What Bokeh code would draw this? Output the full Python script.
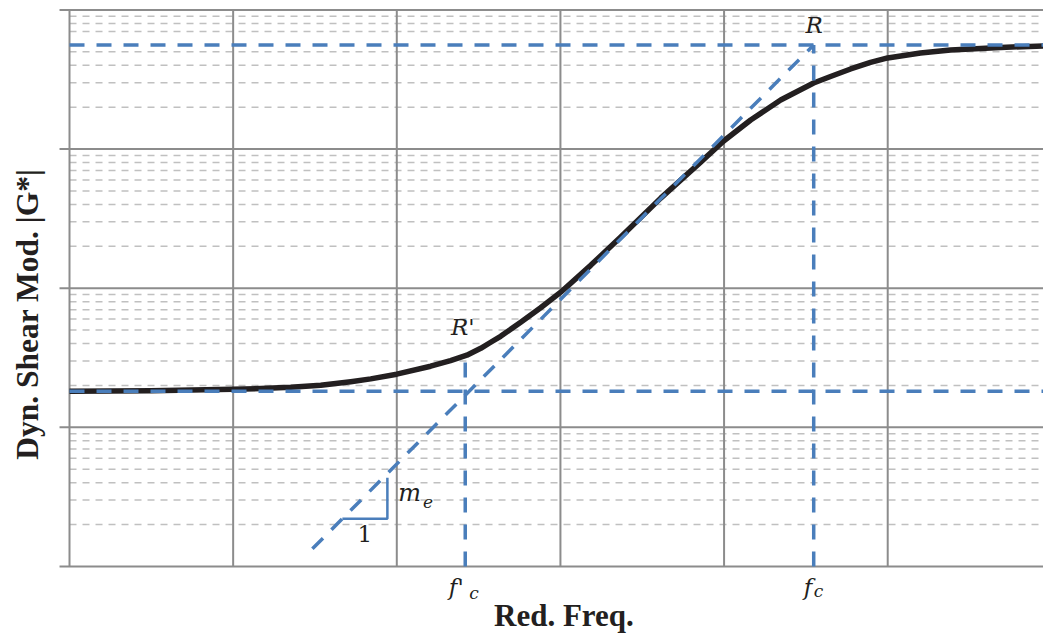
import math
from bokeh.plotting import figure
from bokeh.models import Range1d, Label
from bokeh.embed import file_html
from bokeh.resources import INLINE

# ---- data (log-log master curve) ----
red_freq = [1.0, 3.14, 9.95, 14.75, 22.5, 34.3, 52.3, 69.3, 99.9, 161, 213, 268, 326,
            375, 431, 572, 757, 1004, 1531, 2335, 4101, 7194, 9945, 14540, 22170,
            35260, 44730, 59330, 78520, 99840, 158600, 242200, 489400, 896200]
shear_mod = [18.2, 18.3, 18.8, 19.0, 19.4, 20.1, 21.3, 22.3, 24.1, 27.5, 30.2, 33.0, 37.0,
             40.9, 45.1, 56.9, 72.4, 93.6, 146, 233, 444, 806, 1142, 1617, 2252,
             2985, 3323, 3763, 4192, 4515, 4905, 5155, 5373, 5508]

g_lower = 18.2          # lower (equilibrium) asymptote
g_upper = 5600          # upper (glassy) asymptote
fc = 35300              # crossover frequency f_c
fc_prime = 262          # f'_c
g_at_fc_prime = 34.0    # curve value at f'_c (point R')
diag_start = (30.5, 1.34)  # lower end of the slope line (m_e)
tri_f = [46.5, 87.6, 87.6]   # slope triangle
tri_g = [2.20, 2.20, 4.35]

# axis extents and tick values (log axes, no tick labels shown)
x_min, x_max = 1, 10 ** 5.952
y_min, y_max = 1, 10000
tick_out = 0.869          # start of the outward y tick marks
x_major = [1, 10, 100, 1000, 10000, 100000]
y_major = [1, 10, 100, 1000, 10000]
y_minor = [k * 10 ** d for d in range(4) for k in range(2, 10) if not (d == 3 and k == 6)]

BLUE = "#4a7ebb"
BLACK = "#231f20"
GRID = "#8c8c8c"
MINOR = "#c0c0c0"

# the frame covers the whole picture; axes are drawn through the log scales
p = figure(width=1043, height=635, x_axis_type="log", y_axis_type="log",
           x_range=Range1d(10 ** -0.4217, 10 ** 5.952),
           y_range=Range1d(10 ** -0.4959, 10 ** 4.0676),
           x_axis_location=None, y_axis_location=None,
           output_backend="svg", toolbar_location=None, min_border=0)
p.outline_line_color = None
p.xgrid.visible = False
p.ygrid.visible = False
p.background_fill_color = "white"
p.border_fill_color = "white"

# minor (dashed) horizontal grid
p.segment(x0=[x_min] * len(y_minor), y0=y_minor, x1=[x_max] * len(y_minor), y1=y_minor,
          line_color=MINOR, line_width=1.5, line_dash="7 6")
# major horizontal grid + outward tick marks
p.segment(x0=[tick_out] * len(y_major), y0=y_major, x1=[x_max] * len(y_major), y1=y_major,
          line_color=GRID, line_width=2)
# major vertical grid (first one is the y axis line)
p.segment(x0=x_major, y0=[y_min] * len(x_major), x1=x_major, y1=[y_max] * len(x_major),
          line_color=GRID, line_width=2)

# master curve
p.line(red_freq, shear_mod, line_color=BLACK, line_width=5.5, line_join="round")

DASH = dict(line_color=BLUE, line_width=3.5, line_dash="15 12")
# asymptotes
p.segment(x0=[x_min, x_min], y0=[g_lower, g_upper], x1=[x_max, x_max], y1=[g_lower, g_upper], **DASH)
# verticals at f'_c and f_c
p.segment(x0=[fc, fc_prime], y0=[y_min, y_min], x1=[fc, fc_prime], y1=[g_upper, g_at_fc_prime], **DASH)
# slope line
p.line([diag_start[0], fc], [diag_start[1], g_upper], **DASH)
# slope triangle
p.line(tri_f, tri_g, line_color=BLUE, line_width=2.5)


def lab(x, y, text, size, style="italic", font="DejaVu Serif", align="center",
        baseline="middle", angle=0.0):
    p.add_layout(Label(x=x, y=y, text=text, text_font=font, text_font_style=style,
                       text_font_size=size, text_align=align, text_baseline=baseline,
                       text_color=BLACK, angle=angle))


lab(35500, 7800, "R", "23px")
lab(253, 52.4, "R'", "23px")
lab(120, 3.35, "m", "24px")
lab(155, 2.9, "e", "17px")
lab(63.7, 1.72, "1", "23px", style="normal")
lab(231, 0.718, "f'", "23px")
lab(296, 0.65, "c", "17px")
lab(32600, 0.718, "f", "23px")
lab(37800, 0.672, "c", "17px")

lab(1050, 0.445, "Red. Freq.", "31px", style="bold", font="Liberation Serif")
lab(0.556, 65.0, "Dyn. Shear Mod. |G*|", "31.5px", style="bold", font="Liberation Serif",
    angle=math.pi / 2)

open("out.html", "w").write(file_html(p, INLINE))
